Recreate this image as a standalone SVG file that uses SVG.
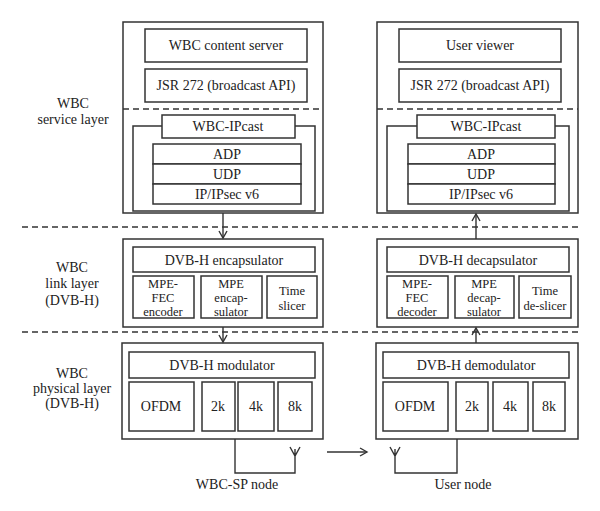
<svg xmlns="http://www.w3.org/2000/svg" width="600" height="511" viewBox="0 0 600 511">
<defs>
<style>
rect{fill:#fff;stroke:#333;stroke-width:1.5}
text{font-family:"Liberation Serif","Times New Roman",serif;font-size:14px;fill:#222;text-anchor:middle}
text.s{font-size:12.5px}
.dash{stroke:#333;stroke-width:1.4;stroke-dasharray:6,4;fill:none}
.ln{stroke:#333;stroke-width:1.4;fill:none}
</style>
<marker id="ah" markerWidth="10" markerHeight="10" refX="8" refY="5" orient="auto" markerUnits="userSpaceOnUse">
<path d="M1,1 L8,5 L1,9" fill="none" stroke="#333" stroke-width="1.4"/>
</marker>
</defs>
<rect x="0" y="0" width="600" height="511" style="fill:#fff;stroke:none"/>

<g id="layer-labels">
<text x="73" y="108">WBC</text>
<text x="73" y="124">service layer</text>
<text x="72" y="272">WBC</text>
<text x="72" y="288">link layer</text>
<text x="72" y="305">(DVB-H)</text>
<text x="72" y="378">WBC</text>
<text x="72" y="393">physical layer</text>
<text x="72" y="408">(DVB-H)</text>
</g>

<g id="separators">
<line class="dash" x1="22" y1="227" x2="578" y2="227"/>
<line class="dash" x1="22" y1="332" x2="578" y2="332"/>
</g>

<g id="sp-service">
<rect x="123" y="22" width="200" height="191"/>
<line class="dash" x1="123" y1="109" x2="323" y2="109"/>
<rect x="145" y="29" width="162" height="33"/>
<text x="226" y="50">WBC content server</text>
<rect x="145" y="69" width="162" height="33"/>
<text x="226" y="90">JSR 272 (broadcast API)</text>
<rect x="133" y="126" width="182" height="85"/>
<rect x="162" y="115" width="133" height="23"/>
<text x="228" y="131">WBC-IPcast</text>
<rect x="153" y="144" width="148" height="20"/>
<text x="227" y="159">ADP</text>
<rect x="153" y="164" width="148" height="20"/>
<text x="227" y="179">UDP</text>
<rect x="153" y="184" width="148" height="20"/>
<text x="227" y="199">IP/IPsec v6</text>
</g>

<g id="user-service">
<rect x="377" y="22" width="201" height="191"/>
<line class="dash" x1="377" y1="109" x2="578" y2="109"/>
<rect x="399" y="29" width="162" height="33"/>
<text x="480" y="50">User viewer</text>
<rect x="399" y="69" width="162" height="33"/>
<text x="480" y="90">JSR 272 (broadcast API)</text>
<rect x="387" y="126" width="182" height="85"/>
<rect x="417" y="115" width="138" height="23"/>
<text x="486" y="131">WBC-IPcast</text>
<rect x="408" y="144" width="147" height="20"/>
<text x="481" y="159">ADP</text>
<rect x="408" y="164" width="147" height="20"/>
<text x="481" y="179">UDP</text>
<rect x="408" y="184" width="147" height="20"/>
<text x="481" y="199">IP/IPsec v6</text>
</g>

<g id="sp-link">
<rect x="123" y="239" width="200" height="88"/>
<rect x="133" y="247" width="182" height="25"/>
<text x="224" y="265">DVB-H encapsulator</text>
<rect x="133" y="276" width="61" height="42"/>
<text class="s" x="163" y="288">MPE-</text>
<text class="s" x="163" y="302">FEC</text>
<text class="s" x="163" y="316">encoder</text>
<rect x="201" y="276" width="61" height="42"/>
<text class="s" x="231" y="288">MPE</text>
<text class="s" x="231" y="302">encap-</text>
<text class="s" x="231" y="316">sulator</text>
<rect x="267" y="276" width="50" height="42"/>
<text class="s" x="292" y="295">Time</text>
<text class="s" x="292" y="310">slicer</text>
</g>

<g id="user-link">
<rect x="377" y="239" width="201" height="88"/>
<rect x="387" y="247" width="182" height="25"/>
<text x="478" y="265">DVB-H decapsulator</text>
<rect x="387" y="276" width="61" height="42"/>
<text class="s" x="417" y="288">MPE-</text>
<text class="s" x="417" y="302">FEC</text>
<text class="s" x="417" y="316">decoder</text>
<rect x="455" y="276" width="59" height="42"/>
<text class="s" x="484" y="288">MPE</text>
<text class="s" x="484" y="302">decap-</text>
<text class="s" x="484" y="316">sulator</text>
<rect x="519" y="276" width="52" height="42"/>
<text class="s" x="545" y="295">Time</text>
<text class="s" x="545" y="310">de-slicer</text>
</g>

<g id="sp-physical">
<rect x="122" y="343" width="201" height="96"/>
<rect x="129" y="352" width="186" height="26"/>
<text x="222" y="370">DVB-H modulator</text>
<rect x="129" y="382" width="65" height="49"/>
<text x="161" y="411">OFDM</text>
<rect x="202" y="382" width="33" height="49"/>
<text x="218" y="411">2k</text>
<rect x="238" y="382" width="36" height="49"/>
<text x="256" y="411">4k</text>
<rect x="278" y="382" width="34" height="49"/>
<text x="295" y="411">8k</text>
<path class="ln" d="M235,439 V473 H295 V449 M290,447 L295,456 L300,447"/>
<text x="237" y="489">WBC-SP node</text>
</g>

<g id="user-physical">
<rect x="376" y="343" width="202" height="96"/>
<rect x="383" y="352" width="186" height="26"/>
<text x="476" y="370">DVB-H demodulator</text>
<rect x="383" y="382" width="65" height="49"/>
<text x="415" y="411">OFDM</text>
<rect x="456" y="382" width="32" height="49"/>
<text x="472" y="411">2k</text>
<rect x="493" y="382" width="35" height="49"/>
<text x="510" y="411">4k</text>
<rect x="533" y="382" width="32" height="49"/>
<text x="549" y="411">8k</text>
<path class="ln" d="M457,439 V473 H395 V449 M390,447 L395,456 L400,447"/>
<text x="463" y="489">User node</text>
</g>

<g id="connectors">
<line class="ln" x1="223" y1="213" x2="223" y2="238" marker-end="url(#ah)"/>
<line class="ln" x1="223" y1="327" x2="223" y2="342" marker-end="url(#ah)"/>
<line class="ln" x1="476" y1="239" x2="476" y2="214" marker-end="url(#ah)"/>
<line class="ln" x1="476" y1="343" x2="476" y2="328" marker-end="url(#ah)"/>
<line class="ln" x1="327" y1="452" x2="367" y2="452" marker-end="url(#ah)"/>
</g>
</svg>
